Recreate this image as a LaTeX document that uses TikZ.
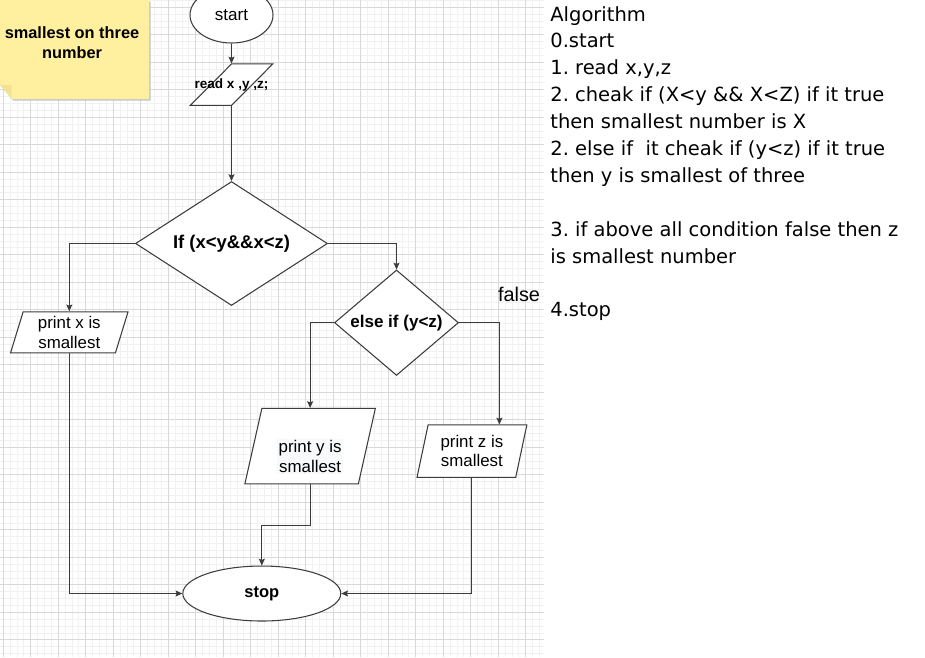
\documentclass[tikz,border=0pt]{standalone}
\usepackage{fontspec}
\setmainfont{Liberation Sans}
\newfontfamily\algfont{DejaVu Sans}
\usetikzlibrary{shapes.geometric,arrows.meta}
\definecolor{gridmajor}{HTML}{D9D9D9}
\definecolor{gridminor}{HTML}{F1F1F1}
\definecolor{notefill}{HTML}{FFF0A0}
\definecolor{notefold}{HTML}{F2E294}
\definecolor{linegray}{HTML}{3C3C3C}
\definecolor{textbg}{HTML}{F7F9FA}
\tikzset{flow/.style={draw=linegray, line width=0.6pt, fill=white, inner sep=0pt, align=center},
  term/.style={flow, ellipse},
  io/.style={flow, trapezium, trapezium stretches=true},
  decision/.style={flow, diamond},
  conn/.style={draw=linegray, line width=0.6pt, -{Stealth[length=3.8pt,width=3.4pt,inset=0.6pt]}},
  algline/.style={anchor=base west, inner sep=0pt, font=\algfont\fontsize{11.1}{15.3}\selectfont}}
\frenchspacing

\begin{document}
\begin{tikzpicture}[x=0.02cm, y=-0.02cm]
  \useasboundingbox (0,0) rectangle (925,657);
  \fill[white] (0,0) rectangle (925,657);
  \begin{scope}
   \clip (0,0) rectangle (544,657);
   \foreach \k in {0,...,79} \draw[gridminor, line width=0.5pt] ({3.2+6.875*\k},0) -- ++(0,657);
   \foreach \k in {-1,...,95} \draw[gridminor, line width=0.5pt] (0,{7.3+6.875*\k}) -- ++(544,0);
   \foreach \k in {0,...,19} \draw[gridmajor, line width=0.55pt] ({3.2+27.5*\k},0) -- ++(0,657);
   \foreach \k in {0,...,23} \draw[gridmajor, line width=0.55pt] (0,{7.3+27.5*\k}) -- ++(544,0);
  \end{scope}

  \fill[black!22] (1.5,1.5) -- (150.5,1.5) -- (150.5,100.5) -- (13.2,100.5) -- (1.5,86.5) -- cycle;
  \fill[notefill] (0,0) -- (149,0) -- (149,99) -- (11.7,99) -- (0,85) -- cycle;
  \fill[notefold] (0,85) -- (11.7,85) -- (11.7,99) -- cycle;
  \node[inner sep=0pt, align=center, font=\bfseries\fontsize{9.3}{11.4}\selectfont] (note) at (72,43) {smallest on three\\number};

  \node[term, minimum width=1.66cm, minimum height=1.12cm, font=\fontsize{9.7}{11.6}\selectfont] (start) at (231.5,15) {start};
  \node[io, trapezium left angle=78, trapezium right angle=102, minimum width=1.65cm, minimum height=0.83cm,
    font=\bfseries\fontsize{7.7}{9}\selectfont] (read) at (231.5,84.7) {\makebox[0pt]{read x ,y ,z;}};
  \node[decision, aspect=1.55, minimum width=3.84cm, minimum height=2.48cm,
    font=\bfseries\fontsize{10.5}{12.6}\selectfont] (ifx) at (231.5,243.5) {If (x<y\&\&x<z)};
  \node[io, trapezium left angle=75, trapezium right angle=105, minimum width=2.36cm, minimum height=0.82cm,
    font=\fontsize{9.6}{11.1}\selectfont] (printx) at (69.3,332.3) {print x is\\smallest};
  \node[decision, aspect=1.18, minimum width=2.48cm, minimum height=2.11cm,
    font=\bfseries\fontsize{9.7}{11.6}\selectfont] (elif) at (396.5,322.7) {else if (y<z)};
  \node[io, inner sep=1pt, trapezium left angle=80, trapezium right angle=100, minimum width=2.61cm, minimum height=1.51cm] (printy) at (310.1,446.2) {};
  \node[fill=textbg, inner sep=1pt, align=center, font=\fontsize{9.6}{11.1}\selectfont] (printytext) at (310.1,456.5) {print y is\\smallest};
  \node[io, trapezium left angle=76, trapezium right angle=104, minimum width=2.2cm, minimum height=1.05cm,
    font=\fontsize{9.6}{11.1}\selectfont] (printz) at (471.9,451.2) {print z is\\smallest};
  \node[term, minimum width=3.16cm, minimum height=1.1cm, font=\bfseries\fontsize{9.4}{11}\selectfont] (stop) at (261.8,593.5) {stop};
  \node[inner sep=0pt, font=\fontsize{11.3}{13}\selectfont] (false) at (519,294) {false};

  \draw[conn] (start) -- (read);
  \draw[conn] (read) -- (ifx);
  \draw[conn] (ifx.west) -| (printx.north);
  \draw[conn] (ifx.east) -| (elif.north);
  \draw[conn] (elif.west) -| (printy.north);
  \draw[conn] (elif.east) -| ([xshift=0.55cm]printz.north);
  \draw[conn] (printy.south) -- ++(0,41) -| (stop.north);
  \draw[conn] (printx.south) |- (stop.west);
  \draw[conn] (printz.south) |- (stop.east);

  \node[algline] (alg1) at (550,21) {Algorithm};
  \node[algline] (alg2) at (550,47.9) {0.start};
  \node[algline] (alg3) at (550,74.8) {1. read x,y,z};
  \node[algline] (alg4) at (550,101.7) {2. cheak if (X<y \&\& X<Z) if it true};
  \node[algline] (alg5) at (550,128.6) {then smallest number is X};
  \node[algline] (alg6) at (550,155.5) {2. else if \ it cheak if (y<z) if it true};
  \node[algline] (alg7) at (550,182.4) {then y is smallest of three};
  \node[algline] (alg8) at (550,236.2) {3. if above all condition false then z};
  \node[algline] (alg9) at (550,263.1) {is smallest number};
  \node[algline] (alg10) at (550,316.9) {4.stop};
 \end{tikzpicture}
\end{document}
